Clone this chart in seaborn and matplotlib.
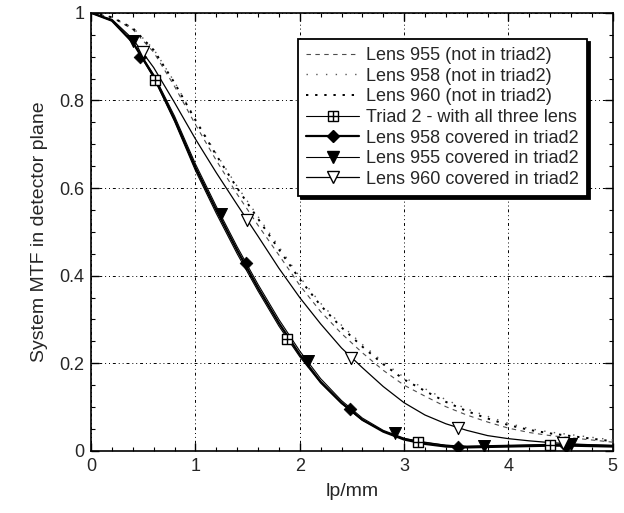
"""MTF in detector plane for triad 2 lens combinations."""

import matplotlib

matplotlib.use("Agg")
import matplotlib.pyplot as plt
import pandas as pd
import seaborn as sns
from matplotlib.lines import Line2D
from matplotlib.ticker import FuncFormatter, MultipleLocator

# frequency samples (lp/mm) used for the curves
FREQ = [0.0, 0.2, 0.4, 0.6, 0.8, 1.0, 1.2, 1.4, 1.6, 1.8, 2.0, 2.2, 2.4,
        2.6, 2.8, 3.0, 3.2, 3.4, 3.6, 3.8, 4.0, 4.2, 4.4, 4.6, 4.8, 5.0]

# single lenses, not in triad2
MTF_955 = [1.0, 0.99, 0.962, 0.91, 0.832, 0.745, 0.663, 0.586, 0.515, 0.447,
           0.378, 0.318, 0.268, 0.224, 0.184, 0.150, 0.125, 0.101, 0.082,
           0.066, 0.052, 0.042, 0.035, 0.030, 0.025, 0.020]
MTF_958 = [1.0, 0.99, 0.966, 0.917, 0.842, 0.757, 0.678, 0.604, 0.535, 0.466,
           0.397, 0.337, 0.287, 0.243, 0.203, 0.168, 0.142, 0.117, 0.096,
           0.079, 0.063, 0.051, 0.043, 0.037, 0.031, 0.025]
MTF_960 = [1.0, 0.99, 0.965, 0.915, 0.840, 0.755, 0.675, 0.600, 0.530, 0.460,
           0.392, 0.332, 0.282, 0.238, 0.198, 0.163, 0.137, 0.112, 0.091,
           0.074, 0.059, 0.048, 0.040, 0.034, 0.028, 0.022]

# triad and covered-lens curves
TRIAD = [1.0, 0.982, 0.932, 0.852, 0.752, 0.640, 0.542, 0.450, 0.365, 0.285,
         0.215, 0.155, 0.108, 0.070, 0.045, 0.028, 0.020, 0.013, 0.010,
         0.011, 0.012, 0.013, 0.014, 0.013, 0.012, 0.011]
COV_958 = [1.0, 0.982, 0.932, 0.855, 0.757, 0.647, 0.550, 0.458, 0.372, 0.292,
           0.220, 0.158, 0.110, 0.071, 0.044, 0.026, 0.016, 0.010, 0.008,
           0.009, 0.010, 0.011, 0.012, 0.012, 0.011, 0.010]
COV_955 = [1.0, 0.982, 0.934, 0.859, 0.764, 0.655, 0.558, 0.466, 0.380, 0.300,
           0.228, 0.165, 0.115, 0.075, 0.047, 0.029, 0.019, 0.013, 0.011,
           0.012, 0.013, 0.014, 0.015, 0.015, 0.014, 0.013]
COV_960 = [1.0, 0.985, 0.94, 0.875, 0.795, 0.712, 0.635, 0.562, 0.490,
           0.417, 0.350, 0.290, 0.235, 0.190, 0.147, 0.110, 0.082, 0.062,
           0.047, 0.035, 0.028, 0.023, 0.019, 0.016, 0.014, 0.012]

# marker positions
TRIAD_MX = [0.61, 1.88, 3.13, 4.40]
TRIAD_MY = [0.847, 0.255, 0.021, 0.014]
COV_958_MX = [0.47, 1.485, 2.48, 3.52, 4.55]
COV_958_MY = [0.90, 0.43, 0.096, 0.008, 0.012]
COV_955_MX = [0.405, 1.245, 2.08, 2.91, 3.77, 4.60]
COV_955_MY = [0.935, 0.54, 0.205, 0.040, 0.012, 0.015]
COV_960_MX = [0.495, 1.49, 2.49, 3.52, 4.52]
COV_960_MY = [0.91, 0.528, 0.213, 0.053, 0.017]

LABELS = [
    "Lens 955 (not in triad2)",
    "Lens 958 (not in triad2)",
    "Lens 960 (not in triad2)",
    "Triad 2 - with all three lens",
    "Lens 958 covered in triad2",
    "Lens 955 covered in triad2",
    "Lens 960 covered in triad2",
]


def main() -> None:
    sns.set_style("ticks")
    plt.rcParams["font.family"] = ["Liberation Sans", "DejaVu Sans"]

    fig = plt.figure(figsize=(6.24, 5.13), dpi=100)
    ax = fig.add_axes([0.146, 0.121, 0.836, 0.854])

    df = pd.DataFrame({
        "f": FREQ, "n955": MTF_955, "n958": MTF_958, "n960": MTF_960,
        "triad": TRIAD, "c958": COV_958, "c955": COV_955, "c960": COV_960,
    })

    styles = {
        "n955": dict(ls=(0, (4, 4)), lw=0.8, color="0.3"),
        "n958": dict(ls=(0, (1, 6)), lw=1.0, color="0.35"),
        "n960": dict(ls=(0, (1.2, 3.5)), lw=1.4, color="black"),
        "triad": dict(ls="-", lw=0.8, color="black"),
        "c958": dict(ls="-", lw=1.6, color="black"),
        "c955": dict(ls="-", lw=0.8, color="black"),
        "c960": dict(ls="-", lw=0.9, color="black"),
    }
    for col, st in styles.items():
        sns.lineplot(data=df, x="f", y=col, ax=ax, linestyle=st["ls"],
                     linewidth=st["lw"], color=st["color"], zorder=3)

    mk = dict(ax=ax, zorder=4, legend=False)
    sns.scatterplot(x=TRIAD_MX, y=TRIAD_MY, marker="s", s=55,
                    facecolor="white", edgecolor="black", linewidth=1.0, **mk)
    sns.scatterplot(x=TRIAD_MX, y=TRIAD_MY, marker="+", s=55,
                    color="black", linewidth=1.0, **mk)
    sns.scatterplot(x=COV_958_MX, y=COV_958_MY, marker="D", s=42,
                    color="black", edgecolor="black", **mk)
    sns.scatterplot(x=COV_955_MX, y=COV_955_MY, marker="v", s=75,
                    color="black", edgecolor="black", **mk)
    sns.scatterplot(x=COV_960_MX, y=COV_960_MY, marker="v", s=75,
                    facecolor="white", edgecolor="black", linewidth=0.9, **mk)

    ax.set_xlim(0, 5)
    ax.set_ylim(0, 1)
    ax.xaxis.set_major_locator(MultipleLocator(1))
    ax.xaxis.set_minor_locator(MultipleLocator(0.2))
    ax.yaxis.set_major_locator(MultipleLocator(0.2))
    ax.yaxis.set_minor_locator(MultipleLocator(0.05))
    fmt = FuncFormatter(lambda v, _: f"{v:g}")
    ax.xaxis.set_major_formatter(fmt)
    ax.yaxis.set_major_formatter(fmt)
    ax.tick_params(which="both", direction="in", top=True, right=True,
                   labelsize=13, color="black", pad=5)
    ax.tick_params(which="major", length=6, width=1.0)
    ax.tick_params(which="minor", length=3, width=0.8)
    for sp in ax.spines.values():
        sp.set_visible(True)
        sp.set_color("black")
        sp.set_linewidth(1.2)
    ax.grid(True, which="major", color="black", linewidth=0.7,
            linestyle=(0, (1, 3, 1, 3, 3, 3)))
    ax.set_axisbelow(True)
    ax.set_xlabel("lp/mm", fontsize=14, labelpad=6)
    ax.set_ylabel("System MTF in detector plane", fontsize=14, labelpad=8)

    handles = [
        Line2D([], [], linestyle=(0, (4, 4)), linewidth=0.8, color="0.3"),
        Line2D([], [], linestyle=(0, (1, 6)), linewidth=1.0, color="0.35"),
        Line2D([], [], linestyle=(0, (1.2, 3.5)), linewidth=1.4, color="black"),
        (Line2D([], [], color="black", lw=0.8, marker="s", ms=7,
                mfc="white", mec="black"),
         Line2D([], [], color="black", lw=0, marker="+", ms=7, mec="black")),
        Line2D([], [], color="black", lw=1.6, marker="D", ms=6.5),
        Line2D([], [], color="black", lw=0.8, marker="v", ms=8.5),
        Line2D([], [], color="black", lw=0.9, marker="v", ms=8.5,
               mfc="white", mec="black"),
    ]
    leg = ax.legend(handles, LABELS, loc="upper left",
                    bbox_to_anchor=(0.478, 0.924), bbox_transform=fig.transFigure,
                    borderaxespad=0, fontsize=13, handlelength=2.9,
                    handletextpad=0.4, labelspacing=0.2, borderpad=0.45,
                    frameon=True, fancybox=False,
                    shadow={"color": "black", "alpha": 1.0})
    leg.get_frame().set_edgecolor("black")
    leg.get_frame().set_linewidth(1.3)
    leg.get_frame().set_alpha(1.0)
    leg.set_zorder(10)

    fig.savefig("out.png", dpi=100)
    plt.close(fig)


if __name__ == "__main__":
    main()
